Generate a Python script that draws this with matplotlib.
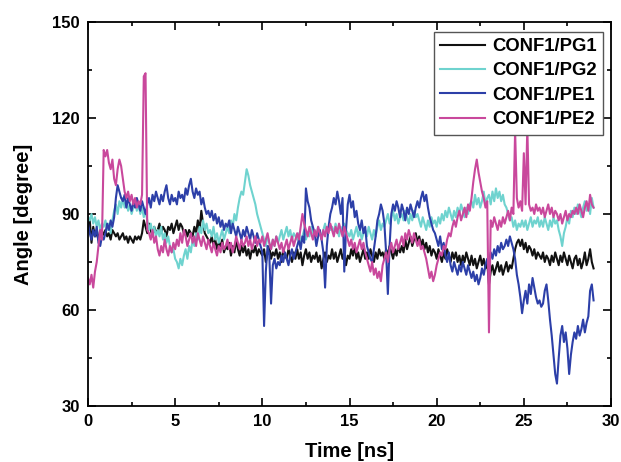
import numpy as np
import matplotlib
matplotlib.use("Agg")
import matplotlib.pyplot as plt
from matplotlib.ticker import MultipleLocator

# sample times (ns), one value every 0.1 ns
time = np.round(np.arange(0, 29.05, 0.1), 1)

pg1 = [
    85, 88, 81, 86, 83, 84, 82, 85, 83, 84,
    85, 83, 84, 82, 85, 84, 83, 84, 82, 83,
    84, 82, 83, 81, 83, 82, 81, 83, 82, 83,
    82, 84, 88, 86, 84, 87, 85, 83, 86, 84,
    85, 87, 84, 86, 85, 83, 86, 85, 87, 84,
    86, 88, 85, 87, 86, 84, 85, 83, 85, 84,
    83, 86, 84, 88, 85, 91, 87, 84, 83, 82,
    81, 83, 80, 82, 79, 81, 80, 82, 78, 80,
    79, 81, 77, 80, 78, 82, 79, 77, 80, 78,
    80, 77, 79, 76, 79, 78, 80, 77, 79, 78,
    77, 79, 75, 78, 80, 76, 78, 77, 79, 76,
    78, 75, 79, 77, 76, 79, 77, 75, 78, 76,
    79, 76, 78, 74, 77, 79, 76, 78, 75, 77,
    76, 78, 75, 77, 73, 76, 78, 75, 77, 76,
    79, 76, 78, 75, 77, 79, 76, 78, 74, 77,
    76, 79, 77, 80, 76, 78, 75, 77, 79, 76,
    78, 76, 79, 77, 75, 78, 76, 79, 77, 78,
    76, 79, 77, 80, 78, 76, 79, 77, 80, 78,
    80, 78, 82, 79, 81, 83, 80, 82, 84, 81,
    83, 80, 82, 79, 81, 78, 80, 77, 79, 78,
    76, 79, 77, 75, 78, 76, 79, 77, 75, 78,
    76, 78, 75, 77, 74, 77, 75, 78, 76, 74,
    77, 74, 76, 73, 75, 77, 74, 76, 73, 75,
    68, 72, 74, 71, 73, 75, 72, 74, 71, 73,
    75, 72, 74, 73, 76, 79, 81, 82, 80, 82,
    79, 81, 78, 80, 79, 77, 79, 76, 78, 77,
    76, 78, 75, 77, 76, 74, 77, 75, 78, 76,
    74, 77, 75, 78, 76, 74, 77, 75, 73, 76,
    77, 74, 76, 73, 75, 78, 74, 76, 79, 75,
    73,
]

pg2 = [
    89, 88, 90, 87, 89, 86, 88, 85, 87, 86,
    88, 85, 87, 84, 88, 91, 93, 90, 94, 92,
    95, 92, 94, 91, 93, 90, 92, 94, 91, 93,
    90, 92, 89, 91, 88, 85, 87, 84, 86, 83,
    85, 83, 86, 82, 84, 81, 83, 80, 78, 79,
    76, 75, 73, 76, 74, 77, 79, 76, 80, 78,
    82, 80, 84, 82, 86, 84, 88, 85, 87, 84,
    85, 83, 86, 82, 84, 81, 83, 85, 82, 84,
    86, 84, 88, 86, 90, 88, 92, 95, 97, 96,
    100, 104, 102, 99, 97, 95, 93, 90, 88, 86,
    84, 82, 80, 83, 81, 79, 82, 80, 83, 81,
    83, 85, 82, 84, 86, 83, 85, 82, 84, 83,
    82, 84, 81, 83, 85, 82, 84, 83, 86, 84,
    85, 83, 86, 84, 82, 85, 87, 84, 86, 85,
    86, 84, 87, 85, 83, 86, 84, 87, 85, 84,
    83, 85, 82, 84, 86, 83, 85, 82, 84, 85,
    83, 86, 84, 82, 85, 83, 86, 88, 85, 87,
    86, 88, 90, 87, 89, 91, 88, 90, 87, 89,
    90, 88, 91, 89, 87, 90, 88, 91, 89, 90,
    88, 86, 89, 87, 85, 88, 86, 89, 87, 88,
    86, 89, 87, 90, 88, 91, 89, 92, 90, 88,
    91, 89, 92, 90, 93, 91, 89, 92, 90, 93,
    94, 92, 96, 93, 95, 92, 94, 97, 93, 95,
    96, 93, 97, 94, 98, 95, 97, 94, 96, 93,
    92, 90, 88, 89, 86, 88, 85, 87, 86, 88,
    86, 88, 85, 87, 89, 86, 88, 87, 89, 86,
    88, 86, 89, 87, 85, 88, 86, 89, 87, 88,
    85, 83, 80, 84, 86, 89, 87, 91, 89, 92,
    90, 93, 91, 89, 92, 94, 91, 93, 90, 95,
    92,
]

pe1 = [
    87, 84, 82, 85, 83, 86, 81, 80, 83, 82,
    84, 87, 85, 88, 86, 89, 95, 99, 97, 95,
    94, 96, 92, 95, 93, 91, 94, 92, 95, 93,
    91, 94, 92, 90, 93, 95, 92, 96, 94, 97,
    95, 93, 96, 94, 97, 99, 95, 93, 96, 94,
    95, 93, 97, 95, 96, 94, 98, 96, 99, 101,
    97, 95, 98, 96, 97, 93, 95, 92, 90, 91,
    89, 91, 88, 90, 87, 89, 86, 88, 85, 87,
    86, 88, 84, 87, 85, 83, 86, 84, 82, 85,
    83, 86, 84, 82, 85, 83, 81, 84, 82, 80,
    78, 55, 72, 80, 77, 62, 74, 76, 73, 75,
    74, 77, 75, 78, 76, 74, 77, 79, 76, 78,
    80, 82, 79, 83, 81, 98, 94, 92, 88, 86,
    84, 80, 83, 85, 82, 78, 67, 80, 86, 90,
    92, 95, 93, 97, 94, 90, 95, 72, 85, 93,
    96, 92, 94, 89, 91, 87, 85, 88, 84, 86,
    80, 78, 76, 75, 79, 83, 88, 90, 93, 91,
    87, 78, 65, 80, 90, 93, 91, 94, 92, 89,
    93, 91, 88, 92, 90, 93, 91, 89, 92, 94,
    92, 95, 97, 94, 96, 92, 89, 87, 85, 84,
    82, 80, 83, 79, 81, 77, 75, 78, 74, 72,
    75, 73, 71, 74, 72, 75, 73, 71, 74, 72,
    70, 72, 69, 71, 68, 70, 73, 71, 74, 76,
    75, 78, 76, 79, 77, 80, 78, 81, 79, 80,
    82, 80, 83, 81, 79, 76, 71, 68, 64, 59,
    63, 66, 62, 68, 65, 70, 67, 64, 62, 63,
    61, 62, 66, 68, 63, 57, 52, 46, 40, 37,
    45, 52, 55, 50, 53, 48, 40, 46, 50, 53,
    51, 55, 52, 54, 57, 53, 56, 58, 66, 68,
    63,
]

pe2 = [
    70, 68, 71, 67, 72, 75, 80, 85, 82, 110,
    108, 110, 106, 104, 107, 101, 99, 104, 107, 105,
    101, 97, 95, 97, 94, 96, 93, 95, 92, 94,
    93, 96, 133, 134, 85, 84, 82, 85, 81, 83,
    79, 77, 80, 78, 82, 79, 77, 80, 78, 81,
    79, 82, 80, 84, 81, 85, 83, 80, 82, 84,
    81, 83, 80, 84, 82, 80, 83, 81, 79, 82,
    80, 78, 81, 79, 77, 80, 78, 81, 79, 80,
    82, 79, 81, 78, 80, 83, 81, 79, 82, 80,
    81, 83, 80, 82, 79, 81, 83, 80, 82, 81,
    83, 80, 82, 84, 81, 79, 82, 80, 83, 81,
    79, 81, 78, 80, 82, 79, 81, 83, 80, 82,
    84, 82, 86, 90, 87, 85, 83, 86, 84, 82,
    85, 83, 86, 84, 82, 85, 83, 86, 84, 87,
    85, 83, 86, 84, 87, 85, 83, 86, 84, 82,
    80, 82, 79, 81, 78, 80, 82, 79, 81, 78,
    76, 74, 72, 75, 71, 73, 70, 72, 69, 74,
    76, 78, 75, 79, 81, 78, 80, 82, 79, 81,
    83, 80, 84, 82, 85, 83, 81, 84, 82, 80,
    82, 79, 80, 78, 76, 73, 70, 72, 69, 71,
    74, 76, 78, 77, 80, 79, 82, 84, 83, 86,
    88, 86, 89, 91, 88, 90, 92, 89, 93, 91,
    95, 100, 104, 107, 103, 100, 97, 95, 92, 94,
    53, 88, 86, 89, 87, 85, 88, 86, 89, 87,
    89, 91, 88, 92, 90, 116, 95, 92, 94, 91,
    109, 93, 117, 93, 91, 92, 90, 93, 91, 92,
    90, 92, 89, 91, 93, 90, 92, 89, 91, 90,
    88, 90, 87, 89, 91, 88, 90, 89, 91, 90,
    92, 90, 93, 91, 89, 92, 94, 91, 96, 93,
    92,
]

labels = ["CONF1/PG1", "CONF1/PG2", "CONF1/PE1", "CONF1/PE2"]
colors = ["#111111", "#6fd3cf", "#2c3fa8", "#c9489c"]

plt.rcParams['font.family'] = ['Liberation Sans', 'DejaVu Sans']

fig = plt.figure(figsize=(6.21, 4.62), dpi=100)
ax = fig.add_axes([88 / 621, 1 - 406 / 462, 523 / 621, 384 / 462])

for series, label, color in zip([pg1, pg2, pe1, pe2], labels, colors):
    ax.plot(time, series, color=color, lw=1.5, label=label)

ax.set_xlim(0, 30)
ax.set_ylim(30, 150)
ax.xaxis.set_major_locator(MultipleLocator(5))
ax.xaxis.set_minor_locator(MultipleLocator(2.5))
ax.yaxis.set_major_locator(MultipleLocator(30))
ax.yaxis.set_minor_locator(MultipleLocator(15))
ax.tick_params(which='both', direction='in', top=True, right=True, width=1.2)
ax.tick_params(which='major', length=6, labelsize=12, pad=6)
ax.tick_params(which='minor', length=3)
for lbl in ax.get_xticklabels() + ax.get_yticklabels():
    lbl.set_fontweight('bold')
for spine in ax.spines.values():
    spine.set_linewidth(1.3)

ax.set_xlabel("Time [ns]", fontsize=14.5, fontweight='bold', labelpad=9)
ax.set_ylabel("Angle [degree]", fontsize=14.5, fontweight='bold', labelpad=14)

leg = ax.legend(loc='upper right', bbox_to_anchor=(0.985, 0.975), fancybox=False,
                framealpha=1, edgecolor='#555555', handlelength=2.4,
                prop={'weight': 'bold', 'size': 13.3}, borderpad=0.35,
                labelspacing=0.4, handletextpad=0.4, borderaxespad=0)
leg.get_frame().set_linewidth(1.0)
for line in leg.get_lines():
    line.set_linewidth(1.5)

fig.savefig("out.png", dpi=100)
